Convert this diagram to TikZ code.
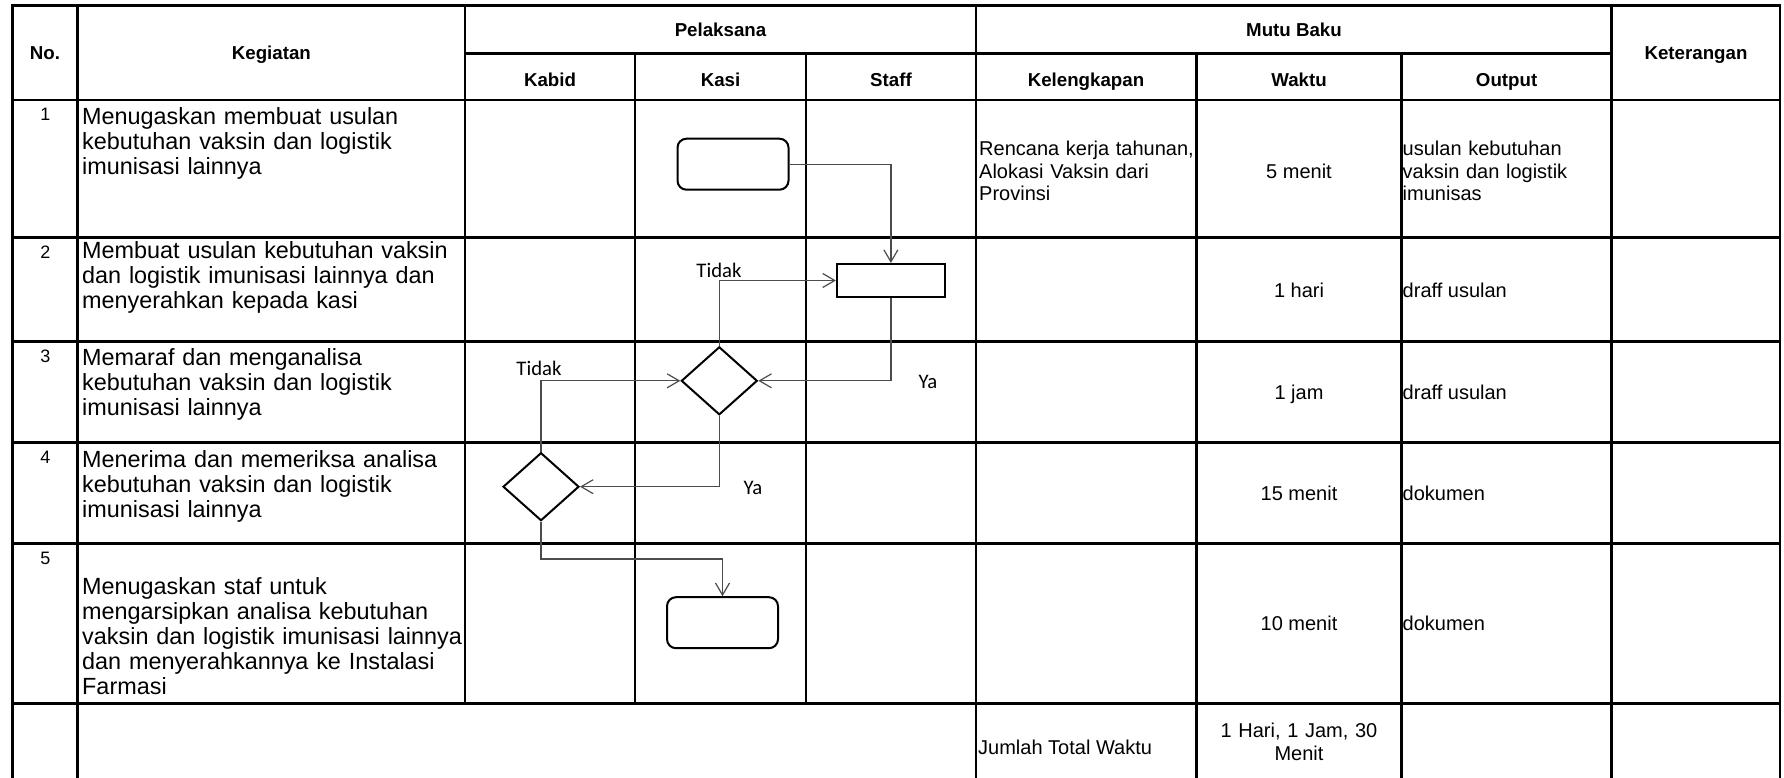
\documentclass[tikz,border=0pt]{standalone}
\usepackage{fontspec}
\setmainfont{Liberation Sans}
\newfontfamily\calibri{Carlito}
\usetikzlibrary{shapes.geometric,arrows.meta}

\begin{document}
\begin{tikzpicture}[x=1pt,y=-1pt,
  garis/.style={line width=2.8pt,line cap=rect},
  judul/.style={anchor=base,inner sep=0pt,font=\fontsize{18.7}{22}\selectfont\bfseries},
  nomor/.style={anchor=base,inner sep=0pt,font=\fontsize{18}{21}\selectfont},
  uraian/.style={anchor=base west,inner sep=0pt,text width=400pt,align=left,font=\fontsize{23.4}{25}\selectfont},
  isian/.style={inner sep=0pt,font=\fontsize{20}{22.3}\selectfont},
  proses/.style={draw,line width=2pt,rounded corners=9pt,minimum width=111pt,minimum height=51pt,inner sep=0pt},
  kotak/.style={draw,line width=2pt,minimum width=108pt,minimum height=33pt,inner sep=0pt},
  keputusan/.style={draw,line width=2pt,diamond,minimum width=76pt,minimum height=68pt,inner sep=0pt},
  alur/.style={draw=black!70,line width=1.2pt,-{Straight Barb[length=12pt,width=14pt]}},
  ket/.style={inner sep=0pt,font=\calibri\fontsize{20.7}{24}\selectfont}]
\useasboundingbox (0,0) rectangle (1784,778);
% garis tabel
\foreach \ya in {5.7,100,237.5,341.7,442.7,543.3,703.3}
  \draw[garis] (12.3,\ya) -- (1780,\ya);
\draw[garis] (465,53.3) -- (1611.7,53.3);
\foreach \xa/\ya/\yb in {12.3/5.7/778,77.7/5.7/778,465/5.7/703.3,635/53.3/703.3,806/53.3/703.3,
  976/5.7/778,1196.5/53.3/778,1401.5/53.3/778,1611.7/5.7/778,1780/5.7/778}
  \draw[garis] (\xa,\ya) -- (\xa,\yb);
% judul kolom
\node[judul] (no) at (45,60) {No.};
\node[judul] (kegiatan) at (271.4,60) {Kegiatan};
\node[judul] (pelaksana) at (720.5,36.7) {Pelaksana};
\node[judul] (kabid) at (550,87) {Kabid};
\node[judul] (kasi) at (720.5,87) {Kasi};
\node[judul] (staff) at (891,87) {Staff};
\node[judul] (mutu) at (1294,36.7) {Mutu Baku};
\node[judul] (kelengkapan) at (1086,87) {Kelengkapan};
\node[judul] (waktu) at (1299,87) {Waktu};
\node[judul] (output) at (1506.6,87) {Output};
\node[judul] (keterangan) at (1696,60) {Keterangan};
% isi baris
\foreach \nr/\ya in {1/100,2/237.5,3/341.7,4/442.7,5/543.3}
  \node[nomor] (no\nr) at (45.5,\ya+21) {\nr};
\node[uraian] (keg1) at (82,124.5) {Menugaskan membuat usulan\\kebutuhan vaksin dan logistik\\imunisasi lainnya};
\node[uraian] (keg2) at (82,258) {Membuat usulan kebutuhan vaksin\\dan logistik imunisasi lainnya dan\\menyerahkan kepada kasi};
\node[uraian] (keg3) at (82,365) {Memaraf dan menganalisa\\kebutuhan vaksin dan logistik\\imunisasi lainnya};
\node[uraian] (keg4) at (82,467) {Menerima dan memeriksa analisa\\kebutuhan vaksin dan logistik\\imunisasi lainnya};
\node[uraian] (keg5) at (82,594) {Menugaskan staf untuk\\mengarsipkan analisa kebutuhan\\vaksin dan logistik imunisasi lainnya\\dan menyerahkannya ke Instalasi\\Farmasi};
\node[isian,anchor=base west,text width=260pt,align=left] (kel1) at (979,156) {Rencana kerja tahunan,\\Alokasi Vaksin dari\\Provinsi};
\node[isian,anchor=base] (wkt1) at (1299,178.3) {5 menit};
\node[isian,anchor=base west,text width=260pt,align=left] (out1) at (1402.5,156) {usulan kebutuhan\\vaksin dan logistik\\imunisas};
\foreach \wkt/\out/\ya [count=\i from 2] in {1 hari/draff usulan/297,1 jam/draff usulan/399,15 menit/dokumen/500,10 menit/dokumen/630}
{ \node[isian,anchor=base] (wkt\i) at (1299,\ya) {\wkt};
  \node[isian,anchor=base west] (out\i) at (1402.5,\ya) {\out}; }
\node[isian,anchor=base west] (jumlah) at (978,754) {Jumlah Total Waktu};
\node[isian,anchor=base,text width=260pt,align=center,font=\fontsize{20}{23}\selectfont] (total) at (1299,737) {1 Hari, 1 Jam, 30\\Menit};
% bagan alir
\node[proses] (mulai) at (733,164.2) {};
\node[kotak] (usulan) at (890.9,280.5) {};
\node[keputusan] (paraf) at (719.3,380.8) {};
\node[keputusan] (periksa) at (541,486.7) {};
\node[proses] (arsip) at (722.5,622.7) {};
\draw[alur] (mulai.east) -| (usulan.north);
\draw[alur] (usulan.south) |- (paraf.east);
\draw[alur] (paraf.north) |- (usulan.west);
\draw[alur] (paraf.south) |- (periksa.east);
\draw[alur] (periksa.north) |- (paraf.west);
\draw[alur] (periksa.south) -- ++(0,37.3) -| (arsip.north);
\node[ket] (tidak1) at (719,270) {Tidak};
\node[ket] (tidak2) at (539,368.5) {Tidak};
\node[ket] (ya1) at (928,382) {Ya};
\node[ket] (ya2) at (753,488) {Ya};
\end{tikzpicture}
\end{document}
